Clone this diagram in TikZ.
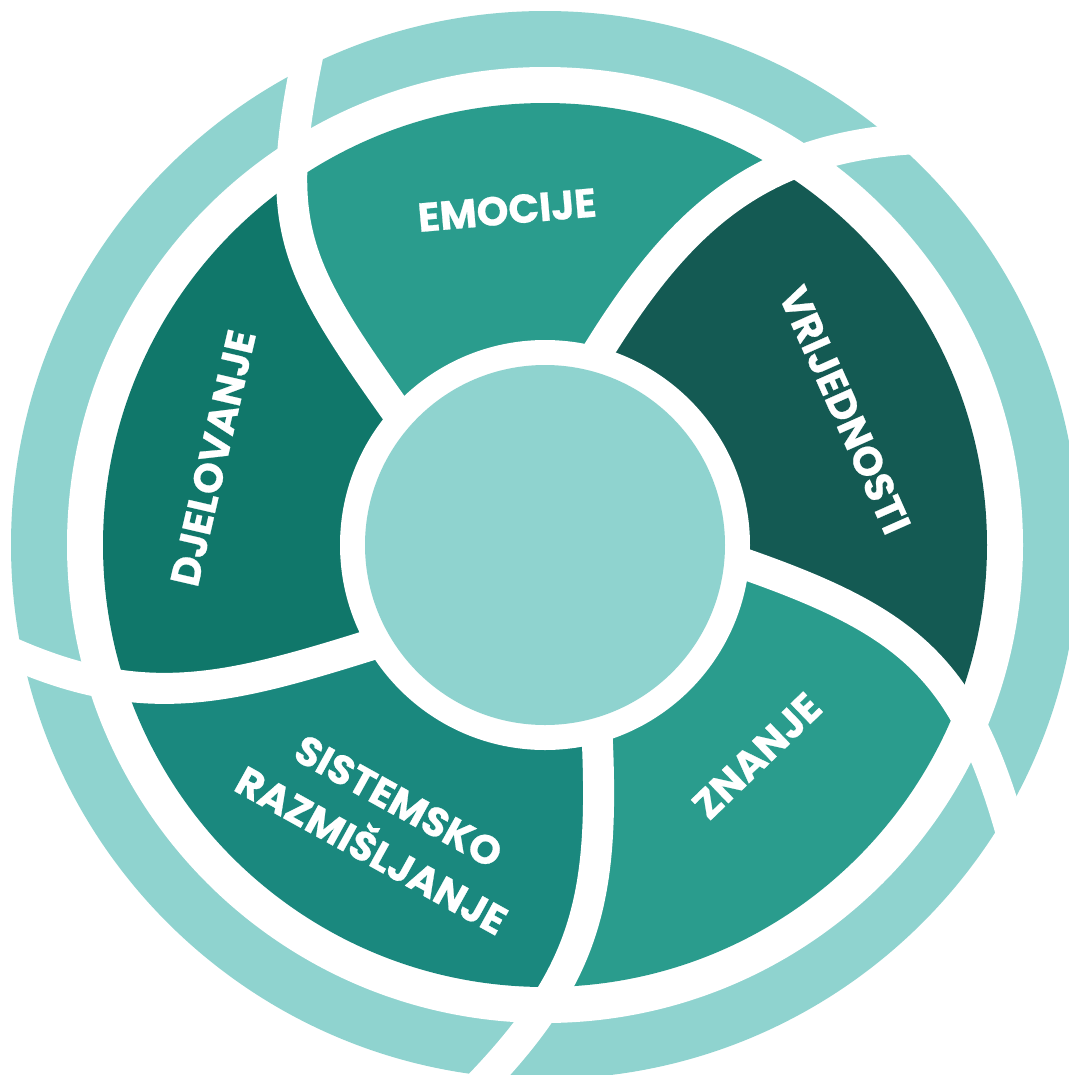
\documentclass[tikz,border=0pt]{standalone}
\usepackage{fontspec}
\newfontfamily\labelfont{Poppins}[BoldFeatures={FakeBold=0.6}]
\definecolor{ringteal}{HTML}{8FD3CF}
\definecolor{midteal}{HTML}{2A9C8D}
\definecolor{darkteal}{HTML}{145A53}
\definecolor{sistteal}{HTML}{1A887E}
\definecolor{djelteal}{HTML}{10776A}
\tikzset{
  divider/.style={white, line width=0.31cm},
  seglabel/.style={text=white, inner sep=0pt, align=center,
    font=\labelfont\bfseries\fontsize{11.5}{16}\selectfont},
}
\begin{document}
\begin{tikzpicture}[x=0.01cm, y=-0.01cm]
  \useasboundingbox (0,0) rectangle (1069,1075);
  \fill [white] (0,0) rectangle (1069,1075);
  \clip (0,0) rectangle (1069,1075);
  % outer ring
  \fill [ringteal] (545,545) circle (534);
  \fill [white] (545,545) circle (478);
  % inner segments
  \begin{scope}
    \clip (545,545) -- (401,418) .. controls (288,259) and (271,226) .. (312,35)
      -- (212,-182) -- (684,-243) -- (1094,-36)
      -- (930,138) .. controls (760,143) and (679,218) .. (591,363) -- cycle;
    \fill [midteal] (545,545) circle (442);
  \end{scope}
  \begin{scope}
    \clip (545,545) -- (591,363) .. controls (679,218) and (760,143) .. (930,138)
      -- (1094,-36) -- (1339,450) -- (1216,981)
      -- (1016,850) .. controls (968,669) and (913,622) .. (736,561) -- cycle;
    \fill [darkteal] (545,545) circle (442);
  \end{scope}
  \begin{scope}
    \clip (545,545) -- (736,561) .. controls (913,622) and (968,669) .. (1016,850)
      -- (1216,981) -- (883,1270) -- (436,1338)
      -- (465,1100) .. controls (586,979) and (605,904) .. (597,733) -- cycle;
    \fill [midteal] (545,545) circle (442);
  \end{scope}
  \begin{scope}
    \clip (545,545) -- (597,733) .. controls (605,904) and (586,979) .. (465,1100)
      -- (436,1338) -- (-11,1120) -- (-242,688)
      -- (-10,643) .. controls (137,714) and (221,692) .. (377,643) -- cycle;
    \fill [sistteal] (545,545) circle (442);
  \end{scope}
  \begin{scope}
    \clip (545,545) -- (377,643) .. controls (221,692) and (137,714) .. (-10,643)
      -- (-242,688) -- (-161,169) -- (212,-182)
      -- (312,35) .. controls (271,226) and (288,259) .. (401,418) -- cycle;
    \fill [djelteal] (545,545) circle (442);
  \end{scope}
  % white dividers
  \draw [divider] (591,363) .. controls (679,218) and (760,143) .. (930,138);
  \draw [divider] (401,418) .. controls (288,259) and (271,226) .. (312,35);
  \draw [divider] (377,643) .. controls (221,692) and (137,714) .. (-10,643);
  \draw [divider] (597,733) .. controls (605,904) and (586,979) .. (465,1100);
  \draw [divider] (736,561) .. controls (913,622) and (968,669) .. (1016,850);
  % centre
  \fill [white] (545,545) circle (205);
  \fill [ringteal] (545,545) circle (180);
  % labels
  \node [seglabel, rotate=5] (emocije) at (507,210) {EMOCIJE};
  \node [seglabel, rotate=-66] (vrijednosti) at (845,410) {VRIJEDNOSTI};
  \node [seglabel, rotate=44] (znanje) at (757,756) {ZNANJE};
  \node [seglabel, rotate=-29] (sistemsko) at (385,826) {SISTEMSKO\\RAZMIŠLJANJE};
  \node [seglabel, rotate=77] (djelovanje) at (213,458) {DJELOVANJE};
\end{tikzpicture}
\end{document}
